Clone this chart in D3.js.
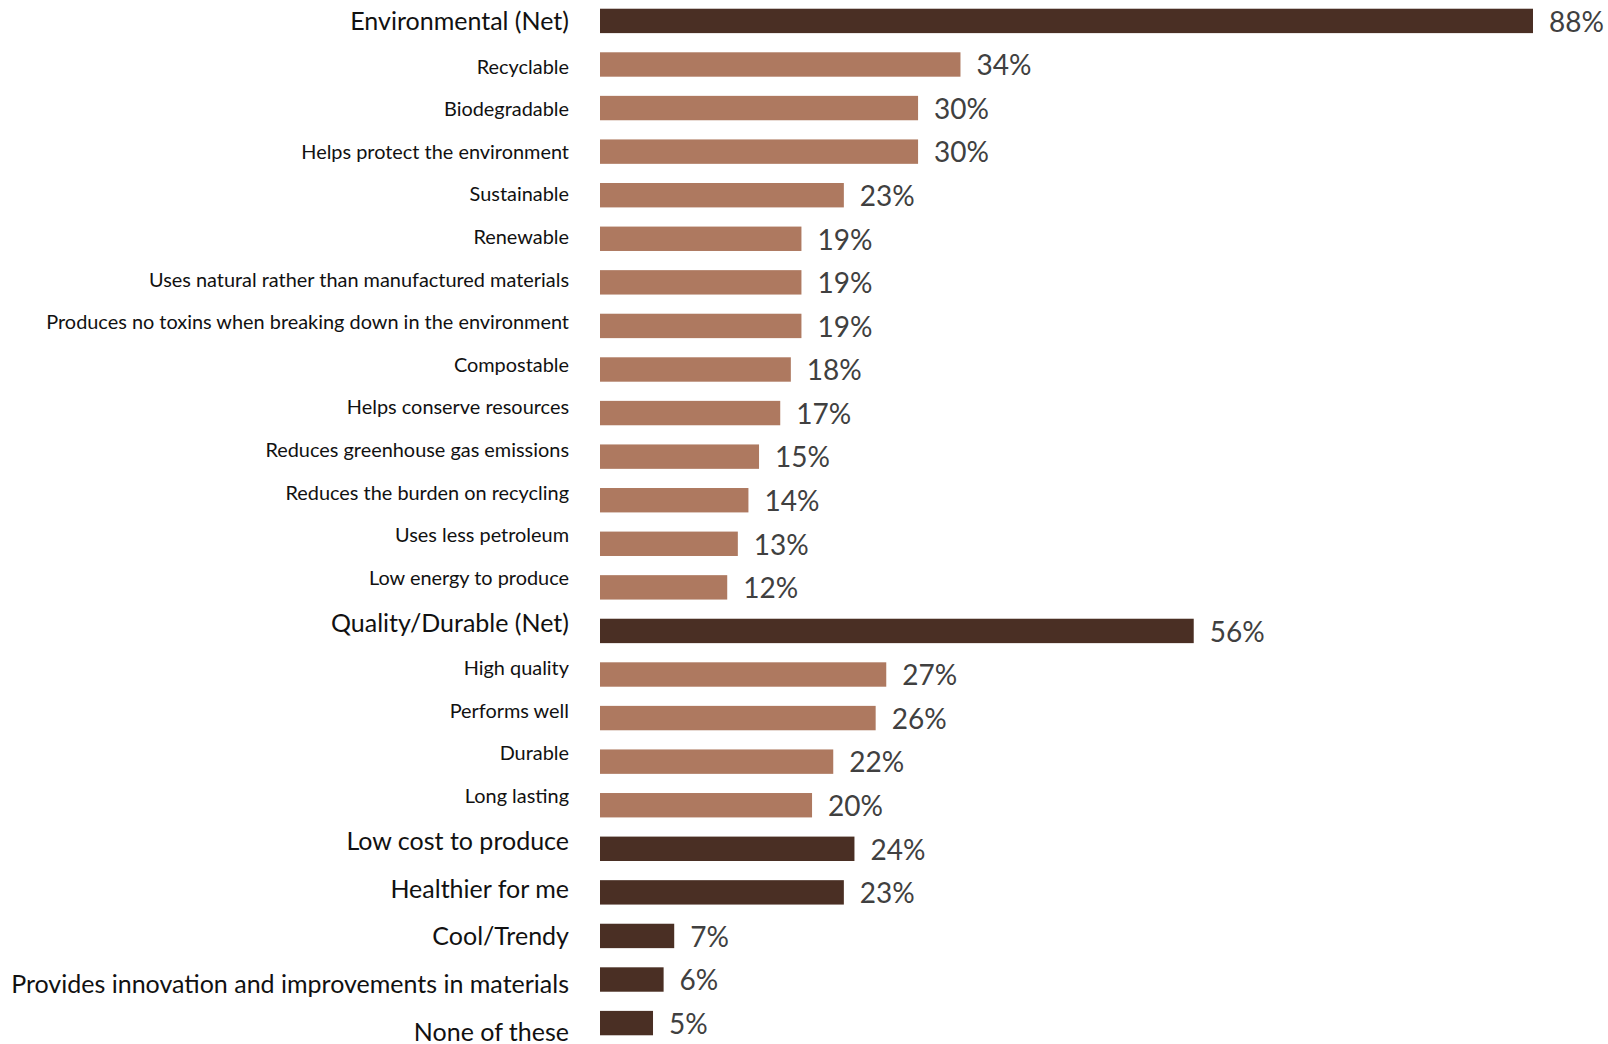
<!DOCTYPE html>
<html>
<head>
<meta charset="utf-8">
<script src="https://cdn.jsdelivr.net/npm/d3@7"></script>
<style>
  body { margin: 0; background: #fff; }
  text { font-family: Lato, "Open Sans", sans-serif; }
</style>
</head>
<body>
<div id="vis"></div>
<script>
// data
const categories = [
  'Environmental (Net)', 'Recyclable', 'Biodegradable', 'Helps protect the environment',
  'Sustainable', 'Renewable', 'Uses natural rather than manufactured materials',
  'Produces no toxins when breaking down in the environment', 'Compostable',
  'Helps conserve resources', 'Reduces greenhouse gas emissions',
  'Reduces the burden on recycling', 'Uses less petroleum', 'Low energy to produce',
  'Quality/Durable (Net)', 'High quality', 'Performs well', 'Durable', 'Long lasting',
  'Low cost to produce', 'Healthier for me', 'Cool/Trendy',
  'Provides innovation and improvements in materials', 'None of these'
];
const values = [88, 34, 30, 30, 23, 19, 19, 19, 18, 17, 15, 14, 13, 12, 56, 27, 26, 22, 20, 24, 23, 7, 6, 5];
// top level rows (nets and stand-alone items) are drawn dark, sub items light
const isTop = [1, 0, 0, 0, 0, 0, 0, 0, 0, 0, 0, 0, 0, 0, 1, 0, 0, 0, 0, 1, 1, 1, 1, 1];

const width = 1608, height = 1044;
const margin = {left: 600};

const data = categories.map((c, i) => ({name: c, value: values[i], top: isTop[i] === 1}));

// the label column is laid out like a table: big rows for top level items, smaller for sub items
const rowH = d => d.top ? 47.7 : 42.6;
const rowEnds = Array.from(d3.cumsum(data, rowH));
data.forEach((d, i) => { d.labelY = -2.3 + rowEnds[i] - rowH(d) / 2; });

const svg = d3.select('#vis')
  .append('svg')
  .attr('width', width)
  .attr('height', height);

const xScale = d3.scaleLinear()
  .domain([0, 88])
  .range([margin.left, 1533]);

const yScale = d3.scaleBand()
  .domain(categories)
  .range([0, height])
  .paddingInner(0.44)
  .paddingOuter(0.2);

// bars
svg.selectAll('.bar')
  .data(data)
  .join('rect')
  .attr('class', 'bar')
  .attr('x', xScale(0))
  .attr('y', d => yScale(d.name))
  .attr('width', d => xScale(d.value) - xScale(0))
  .attr('height', yScale.bandwidth())
  .attr('fill', d => d.top ? '#4a2f24' : '#ae7960');

// category labels
svg.selectAll('.cat')
  .data(data)
  .join('text')
  .attr('class', 'cat')
  .attr('x', 569)
  .attr('y', d => d.labelY)
  .attr('dy', '0.35em')
  .attr('text-anchor', 'end')
  .attr('font-size', d => d.top ? 25 : 19.9)
  .attr('fill', '#111')
  .text(d => d.name);

// value labels
svg.selectAll('.val')
  .data(data)
  .join('text')
  .attr('class', 'val')
  .attr('x', d => xScale(d.value) + 16)
  .attr('y', d => yScale(d.name) + yScale.bandwidth() / 2 + 1)
  .attr('dy', '0.35em')
  .attr('font-size', 28)
  .attr('fill', '#404040')
  .text(d => d.value + '%');
</script>
</body>
</html>
